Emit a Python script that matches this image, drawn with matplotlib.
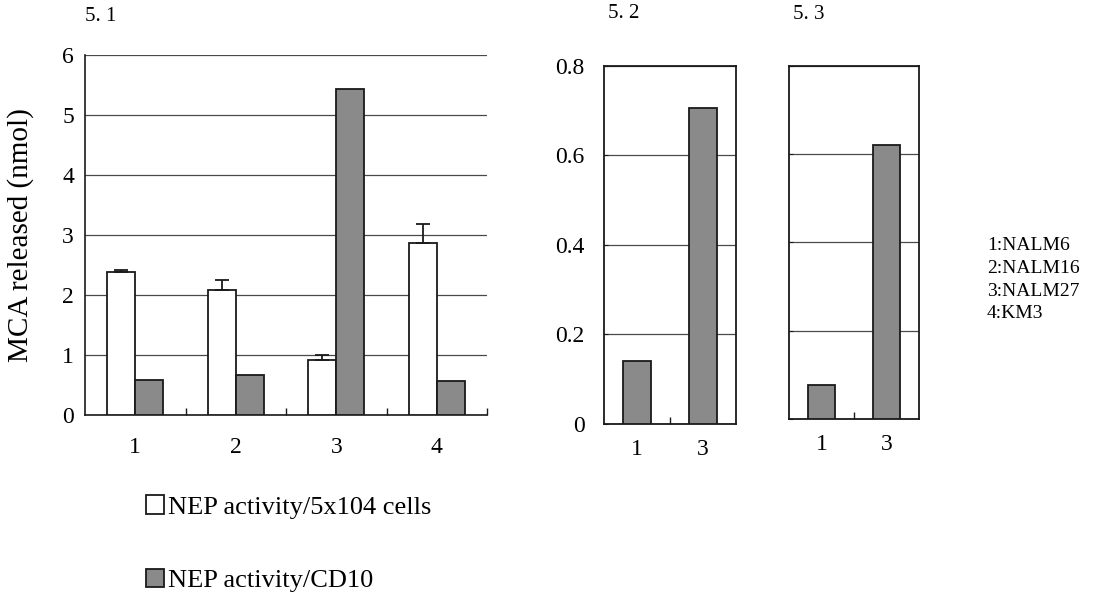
import numpy as np
import matplotlib
matplotlib.use('Agg')
import matplotlib.pyplot as plt

plt.rcParams['font.family'] = ['Liberation Serif', 'DejaVu Serif']

# panel 5.1 : four cell lines
cells_all = ['1', '2', '3', '4']
nep_per_cells = [2.38, 2.08, 0.92, 2.86]
nep_per_cells_err = [0.03, 0.17, 0.08, 0.33]
nep_per_cd10 = [0.59, 0.67, 5.44, 0.56]

# panels 5.2 and 5.3 : cell lines 1 and 3 only
cells_sub = ['1', '3']
cd10_52 = [0.14, 0.707]
cd10_53 = [0.077, 0.62]

cell_names = ['1:NALM6', '2:NALM16', '3:NALM27', '4:KM3']

WHITE = 'white'
GRAY = '#8a8a8a'
EDGE = '#1a1a1a'
GRID = '#4a4a4a'

fig = plt.figure(figsize=(11.14, 5.95), dpi=100)

#panel 5.1
ax1 = fig.add_axes([0.0763, 0.3025, 0.3609, 0.6050])
x = np.arange(len(cells_all))
w = 0.28
b_white = ax1.bar(x - w/2, nep_per_cells, w, color=WHITE, edgecolor=EDGE,
                  linewidth=1.3, zorder=3,
                  label='NEP activity/5x104 cells')
ax1.errorbar(x - w/2, nep_per_cells,
             yerr=[np.zeros(len(x)), nep_per_cells_err],
             fmt='none', ecolor=EDGE, elinewidth=1.3, capsize=5,
             capthick=1.3, zorder=4)
b_gray = ax1.bar(x + w/2, nep_per_cd10, w, color=GRAY, edgecolor=EDGE,
                 linewidth=1.3, zorder=3, label='NEP activity/CD10')
ax1.set_xlim(-0.5, 3.5)
ax1.set_ylim(0, 6)
ax1.set_yticks(range(0, 7))
ax1.set_xticks(x)
ax1.set_xticklabels(cells_all)
ax1.set_xticks(np.arange(0.5, 4.0, 1.0), minor=True)
ax1.tick_params(axis='x', which='major', length=0, labelsize=17, pad=16)
ax1.tick_params(axis='x', which='minor', direction='in', length=5,
                width=1, color=EDGE)
ax1.tick_params(axis='y', length=0, labelsize=17, pad=8)
ax1.yaxis.grid(True, color=GRID, linewidth=0.9)
ax1.set_axisbelow(True)
for s in ['top', 'right']:
    ax1.spines[s].set_visible(False)
for s in ['left', 'bottom']:
    ax1.spines[s].set_color(EDGE)
    ax1.spines[s].set_linewidth(1.2)
ax1.set_ylabel('MCA released (nmol)', fontsize=21)
ax1.yaxis.set_label_coords(-0.128, 0.5)
ax1.text(0.0, 1.08, '5. 1', transform=ax1.transAxes, fontsize=15,
         va='bottom', ha='left')


def small_panel(ax, values, title, show_labels):
    xs = np.arange(len(cells_sub))
    ax.bar(xs, values, 0.42, color=GRAY, edgecolor=EDGE, linewidth=1.3,
           zorder=3)
    ax.set_xlim(-0.5, 1.5)
    ax.set_ylim(0, 0.8)
    ax.set_yticks([0, 0.2, 0.4, 0.6, 0.8])
    if show_labels:
        ax.set_yticklabels(['0', '0.2', '0.4', '0.6', '0.8'])
    else:
        ax.set_yticklabels([])
    ax.set_xticks(xs)
    ax.set_xticklabels(cells_sub)
    ax.set_xticks([0.5], minor=True)
    ax.tick_params(axis='x', which='major', length=0, labelsize=17, pad=11)
    ax.tick_params(axis='x', which='minor', direction='in', length=5,
                   width=1, color=EDGE)
    ax.tick_params(axis='y', direction='in', length=3, labelsize=17, pad=14,
                   color=EDGE)
    ax.yaxis.grid(True, color=GRID, linewidth=0.9)
    ax.set_axisbelow(True)
    for s in ax.spines.values():
        s.set_color(EDGE)
        s.set_linewidth(1.3)
    ax.text(0.03, 1.12, title, transform=ax.transAxes, fontsize=15,
            va='bottom', ha='left')


ax2 = fig.add_axes([0.5422, 0.2874, 0.1185, 0.6017])
small_panel(ax2, cd10_52, '5. 2', True)
ax3 = fig.add_axes([0.7083, 0.2958, 0.1167, 0.5933])
small_panel(ax3, cd10_53, '5. 3', False)

#cell line key
fig.text(0.886, 0.53, '\n'.join(cell_names), fontsize=14, va='center',
         ha='left', linespacing=1.45)

#legend under panel 5.1
fig.legend(handles=[b_white, b_gray], loc='upper left',
           bbox_to_anchor=(0.131, 0.168), frameon=False, fontsize=19,
           handlelength=0.7, handleheight=0.7, handletextpad=0.15,
           labelspacing=1.9, borderaxespad=0, borderpad=0)

plt.savefig('out.png', dpi=100)
